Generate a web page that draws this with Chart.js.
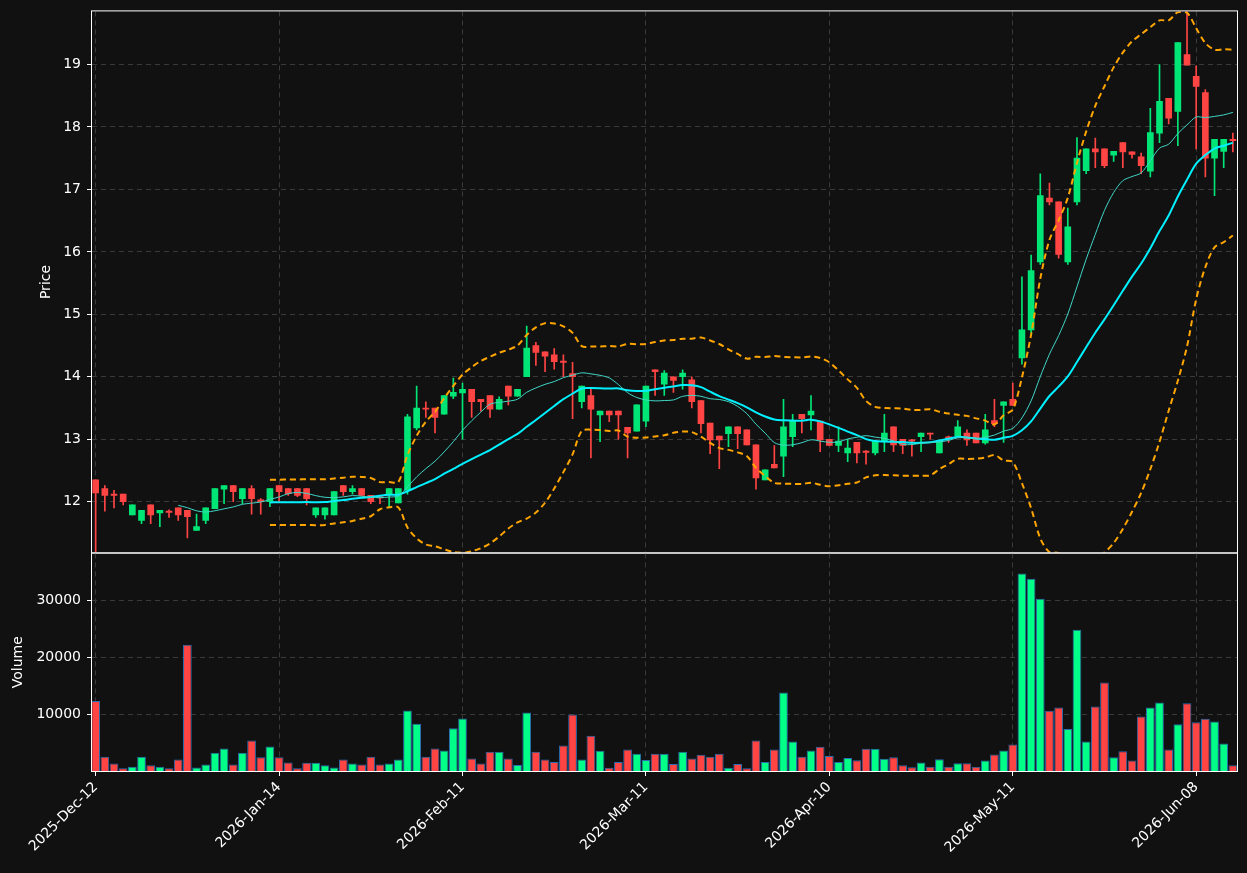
<!DOCTYPE html>
<html>
<head>
<meta charset="utf-8">
<script src="https://cdn.jsdelivr.net/npm/chart.js@4.4.1/dist/chart.umd.min.js"></script>
<style>
  html, body { margin: 0; padding: 0; background: #111111; overflow: hidden; }
  #wrap { position: relative; width: 1247px; height: 873px; overflow: hidden; }
  #priceBox { position: absolute; left: 0; top: -3px; width: 1247px; height: 570px; }
  #volBox { position: absolute; left: 0; top: 539px; width: 1247px; height: 334px; }
</style>
</head>
<body>
<div id="wrap">
  <div id="priceBox"><canvas id="priceChart"></canvas></div>
  <div id="volBox"><canvas id="volChart"></canvas></div>
</div>
<script>
// ------------------------
// Data
// ------------------------
const tickIndex = [0, 20, 40, 60, 80, 100, 120];
const tickLabels = ['2025-Dec-12', '2026-Jan-14', '2026-Feb-11', '2026-Mar-11', '2026-Apr-10', '2026-May-11', '2026-Jun-08'];

const opens = [12.35,12.21,12.12,12.12,11.79,11.70,11.95,11.82,11.85,11.90,
  11.86,11.54,11.70,11.89,12.20,12.26,12.05,12.21,12.03,12.00,
  12.26,12.21,12.21,12.21,11.79,11.79,11.79,12.26,12.16,12.21,
  12.10,12.08,12.12,11.98,12.18,13.18,13.50,13.50,13.40,13.69,
  13.74,13.80,13.64,13.70,13.48,13.85,13.69,14.00,14.50,14.40,
  14.35,14.25,14.05,13.60,13.70,13.39,13.45,13.45,13.19,13.13,
  13.29,14.11,13.88,14.00,14.00,13.95,13.62,13.26,13.05,13.09,
  13.20,13.15,12.91,12.35,12.60,12.73,13.04,13.40,13.39,13.29,
  13.00,12.90,12.78,12.95,12.81,12.78,12.97,13.20,13.00,12.99,
  13.04,13.10,12.78,13.04,13.05,13.10,13.10,12.94,13.30,13.54,
  13.64,14.30,14.75,15.84,16.86,16.80,15.84,16.80,17.30,17.65,
  17.65,17.55,17.75,17.60,17.52,17.29,17.90,18.46,18.25,19.16,
  18.81,18.55,17.50,17.61,17.80];
const closes = [12.14,12.10,12.10,12.00,11.95,11.86,11.79,11.86,11.83,11.79,
  11.76,11.60,11.90,12.21,12.26,12.16,12.21,12.05,12.00,12.21,
  12.16,12.13,12.10,12.05,11.90,11.90,12.16,12.16,12.21,12.10,
  12.00,12.06,12.21,12.21,13.36,13.50,13.48,13.35,13.70,13.75,
  13.80,13.60,13.60,13.48,13.64,13.69,13.80,14.46,14.39,14.33,
  14.24,14.23,14.00,13.85,13.48,13.45,13.39,13.39,13.10,13.55,
  13.85,14.08,14.06,13.94,14.06,13.60,13.25,12.99,12.99,13.20,
  13.09,12.91,12.38,12.51,12.54,13.20,13.30,13.33,13.45,12.99,
  12.90,12.97,12.86,12.78,12.79,12.97,13.10,12.91,12.90,12.97,
  13.10,13.08,12.97,13.02,13.20,12.99,12.94,13.15,13.25,13.60,
  13.54,14.75,15.70,16.90,16.80,15.96,16.40,17.50,17.65,17.60,
  17.38,17.61,17.60,17.56,17.38,17.91,18.41,18.14,19.35,18.99,
  18.65,17.50,17.80,17.80,17.78];
const highs = [12.35,12.26,12.18,12.12,11.95,11.86,11.95,11.86,11.87,11.90,
  11.86,11.80,11.90,12.21,12.26,12.26,12.21,12.26,12.05,12.21,
  12.26,12.21,12.21,12.21,11.90,11.90,12.16,12.26,12.26,12.21,
  12.10,12.10,12.21,12.21,13.40,13.85,13.60,13.50,13.70,13.98,
  13.90,13.80,13.64,13.70,13.68,13.85,13.80,14.81,14.55,14.40,
  14.45,14.35,14.23,13.85,13.80,13.45,13.45,13.45,13.19,13.55,
  13.85,14.11,14.10,14.00,14.11,14.00,13.62,13.26,13.05,13.20,
  13.20,13.15,12.91,12.51,12.90,13.64,13.40,13.40,13.70,13.29,
  13.00,13.20,13.00,12.95,12.82,12.97,13.40,13.20,13.00,13.00,
  13.10,13.10,12.97,13.05,13.30,13.15,13.10,13.40,13.64,13.60,
  13.90,15.60,15.95,17.25,17.10,16.80,16.70,17.83,17.65,17.82,
  17.65,17.61,17.75,17.60,17.58,18.30,19.00,18.46,19.35,19.90,
  18.98,18.60,17.80,17.80,17.90];
const lows = [11.20,11.85,11.90,11.95,11.79,11.65,11.65,11.60,11.75,11.70,
  11.42,11.54,11.65,11.89,11.97,12.00,11.97,11.80,11.80,11.92,
  12.00,12.10,12.08,11.95,11.75,11.72,11.79,12.10,12.12,12.10,
  11.97,11.97,11.90,11.98,12.12,13.15,13.35,13.10,13.40,13.65,
  13.00,13.35,13.45,13.35,13.48,13.55,13.69,14.00,14.18,14.08,
  14.12,14.00,13.33,13.50,12.70,12.96,13.28,13.00,12.70,13.13,
  13.20,13.70,13.70,13.75,13.80,13.50,13.10,12.77,12.53,12.88,
  12.85,12.91,12.20,12.35,12.54,12.40,12.88,13.10,13.15,12.80,
  12.90,12.80,12.64,12.62,12.60,12.75,12.80,12.80,12.77,12.73,
  12.80,13.00,12.78,12.95,13.05,12.90,12.94,12.92,13.20,12.95,
  13.54,14.20,14.70,15.80,16.75,15.90,15.80,16.75,17.25,17.35,
  17.35,17.45,17.35,17.50,17.25,17.20,17.75,18.05,17.70,18.99,
  17.65,17.20,16.90,17.35,17.60];
const volumes = [12300,2500,1300,500,750,2500,1000,750,500,2000,
  22200,600,1150,3200,3950,1150,3200,5350,2400,4300,
  2400,1500,500,1450,1450,1000,600,2000,1300,1150,
  2500,1150,1300,2000,10650,8300,2500,3950,3600,7500,
  9250,2200,1300,3400,3400,2200,1050,10300,3400,2000,
  1600,4500,9950,2000,6200,3550,550,1600,3800,3050,
  1950,3050,3050,1250,3400,2200,2850,2500,3050,550,
  1250,500,5350,1600,3800,13800,5200,2500,3600,4250,
  2650,1600,2300,1900,3900,3900,2150,2400,1000,650,
  1500,750,2050,750,1350,1350,750,1850,2900,3600,
  4650,34700,33800,30300,10600,11150,7400,24850,5200,11350,
  15550,2400,3450,1850,9600,11150,12050,3800,8200,11900,
  8550,9200,8700,4850,1000];

// ------------------------
// Indicators (derived from closes)
// ------------------------
function movingAvg(arr, n) {
  return arr.map((v, i) => {
    if (i < n - 1) return null;
    let s = 0;
    for (let k = i - n + 1; k <= i; k++) s += arr[k];
    return s / n;
  });
}
function bands(arr, n, mult) {
  const ma = movingAvg(arr, n);
  const up = [], lo = [];
  arr.forEach((v, i) => {
    if (ma[i] === null) { up.push(null); lo.push(null); return; }
    let ss = 0;
    for (let k = i - n + 1; k <= i; k++) ss += (arr[k] - ma[i]) ** 2;
    const sd = Math.sqrt(ss / n);
    up.push(ma[i] + mult * sd);
    lo.push(ma[i] - mult * sd);
  });
  return { up, lo };
}

const ma10 = movingAvg(closes, 10);
const ma20 = movingAvg(closes, 20);
const bb = bands(closes, 20, 2);

const GREEN = '#00e676';
const RED = '#ff4444';
const VGREEN = '#00ff88';
const isUp = closes.map((c, i) => c >= opens[i]);
const pts = arr => arr.map((v, i) => ({ x: i, y: v }));

// ------------------------
// Shared axis helpers
// ------------------------
const frame = {
  id: 'frame',
  afterDraw(chart) {
    const { ctx, chartArea: a } = chart;
    ctx.save();
    ctx.strokeStyle = '#ffffff';
    ctx.lineWidth = 1;
    ctx.strokeRect(a.left - 0.5, a.top - 0.5, a.right - a.left + 1, a.bottom - a.top + 1);
    ctx.restore();
  }
};

function xScale(showTicks) {
  return {
    type: 'linear', min: -0.4, max: 124.45, offset: false,
    afterBuildTicks: s => { s.ticks = tickIndex.map(v => ({ value: v })); },
    afterFit: s => { s.height = showTicks ? 102 : 0; },
    grid: { offset: false, color: '#3a3a3a', lineWidth: 1, drawTicks: showTicks, tickLength: 5, tickColor: '#ffffff' },
    border: { display: false, dash: [5, 4] },
    ticks: {
      display: showTicks, color: '#ffffff', maxRotation: 45, minRotation: 45,
      font: { family: 'DejaVu Sans', size: 14 },
      callback: v => tickLabels[tickIndex.indexOf(v)]
    }
  };
}

Chart.defaults.font.family = 'DejaVu Sans';
Chart.defaults.animation = false;

// ------------------------
// Price chart
// ------------------------
new Chart(document.getElementById('priceChart'), {
  type: 'bar',
  data: {
    datasets: [
      { type: 'line', data: pts(bb.up), borderColor: '#ffa500', borderWidth: 2, borderDash: [6, 4], pointRadius: 0, tension: 0.3, order: 1 },
      { type: 'line', data: pts(bb.lo), borderColor: '#ffa500', borderWidth: 2, borderDash: [6, 4], pointRadius: 0, tension: 0.3, order: 1 },
      { type: 'line', data: pts(ma10), borderColor: '#40d8c8', borderWidth: 1, pointRadius: 0, tension: 0.3, order: 2 },
      { type: 'line', data: pts(ma20), borderColor: '#00f0ff', borderWidth: 2, pointRadius: 0, tension: 0.3, order: 2 },
      {
        data: opens.map((o, i) => ({ x: i, y: [lows[i], highs[i]] })),
        backgroundColor: isUp.map(u => u ? GREEN : RED),
        barThickness: 1, grouped: false, order: 4
      },
      {
        data: opens.map((o, i) => ({ x: i, y: [o, Math.abs(closes[i] - o) < 0.02 ? o + (isUp[i] ? 0.02 : -0.02) : closes[i]] })),
        backgroundColor: isUp.map(u => u ? GREEN : RED),
        barThickness: 6, grouped: false, order: 3
      }
    ]
  },
  options: {
    responsive: true, maintainAspectRatio: false,
    layout: { padding: { left: 0, right: 10, top: 7, bottom: 0 } },
    plugins: { legend: { display: false }, tooltip: { enabled: false } },
    scales: {
      x: xScale(false),
      y: {
        min: 11.185, max: 19.85,
        afterBuildTicks: s => { s.ticks = [12, 13, 14, 15, 16, 17, 18, 19].map(v => ({ value: v })); },
        afterFit: s => { s.width = 92; },
        grid: { color: '#3a3a3a', drawTicks: true, tickLength: 5, tickColor: '#ffffff' },
        border: { display: false, dash: [5, 4] },
        ticks: { color: '#ffffff', font: { size: 14 }, padding: 6 },
        title: { display: true, text: 'Price', color: '#ffffff', font: { size: 14 }, padding: { top: 38, bottom: 0 } }
      }
    }
  },
  plugins: [frame]
});

// ------------------------
// Volume chart
// ------------------------
new Chart(document.getElementById('volChart'), {
  type: 'bar',
  data: {
    datasets: [{
      data: volumes.map((v, i) => ({ x: i, y: v })),
      backgroundColor: isUp.map(u => u ? VGREEN : RED),
      borderColor: '#2a6db0', borderWidth: 1,
      barPercentage: 0.95, categoryPercentage: 1
    }]
  },
  options: {
    responsive: true, maintainAspectRatio: false,
    layout: { padding: { left: 0, right: 10, top: 0, bottom: 0 } },
    plugins: { legend: { display: false }, tooltip: { enabled: false } },
    scales: {
      x: xScale(true),
      y: {
        min: 0, max: 38250,
        afterBuildTicks: s => { s.ticks = [10000, 20000, 30000].map(v => ({ value: v })); },
        afterFit: s => { s.width = 92; },
        grid: { color: '#3a3a3a', drawTicks: true, tickLength: 5, tickColor: '#ffffff' },
        border: { display: false, dash: [5, 4] },
        ticks: { color: '#ffffff', font: { size: 14 }, padding: 6, callback: v => String(v) },
        title: { display: true, text: 'Volume', color: '#ffffff', font: { size: 14 }, padding: { top: 10, bottom: 0 } }
      }
    }
  },
  plugins: [frame]
});
</script>
</body>
</html>
